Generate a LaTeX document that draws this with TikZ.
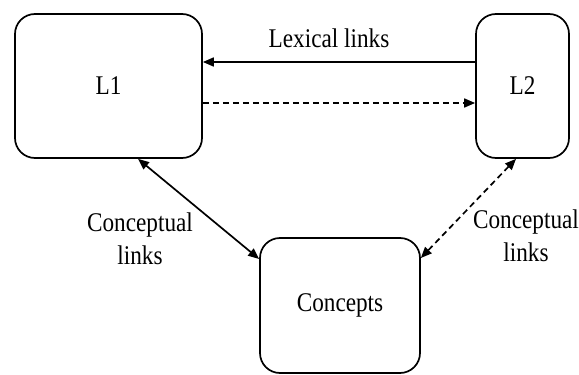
\documentclass[tikz,border=0pt]{standalone}
\usepackage{fontspec}
\setmainfont{Liberation Serif}
\usetikzlibrary{arrows.meta}
\newcommand\sqz[1]{\scalebox{0.86}[1]{#1}}
\begin{document}
\begin{tikzpicture}[x=1pt,y=-1pt,
  box/.style={draw,line width=1.7pt,rounded corners=20pt,inner sep=0pt,font=\fontsize{27}{33}\selectfont},
  lbl/.style={inner sep=0pt,align=center,font=\fontsize{27}{33}\selectfont},
  link/.style={line width=1.7pt,-{Triangle[length=11pt,width=9pt]}},
  blink/.style={line width=1.7pt,{Triangle[length=11pt,width=9pt]}-{Triangle[length=11pt,width=9pt]}},
  dlink/.style={dash pattern=on 6pt off 4pt}]
\useasboundingbox (0,0) rectangle (579,375);
\node[box,minimum width=187pt,minimum height=144pt] (L1) at (108.5,86) {\sqz{L1}};
\node[box,minimum width=93pt,minimum height=144pt] (L2) at (522.5,86) {\sqz{L2}};
\node[box,minimum width=160pt,minimum height=135pt] (C) at (340,305.5) {\sqz{Concepts}};
\node[lbl] (lex) at (329,38) {\sqz{Lexical links}};
\node[lbl] (lc) at (140,239) {\sqz{Conceptual}\\\sqz{links}};
\node[lbl] (rc) at (526,236) {\sqz{Conceptual}\\\sqz{links}};
\draw[link] (L2.west |- 0,62) -- (L1.east |- 0,62);
\draw[link,dlink] (L1.east |- 0,103) -- (L2.west |- 0,103);
\draw[blink] (138,0 |- L1.south) -- (C.west |- 0,259);
\draw[blink,dlink] (516,0 |- L2.south) -- (C.east |- 0,258);
\end{tikzpicture}
\end{document}
